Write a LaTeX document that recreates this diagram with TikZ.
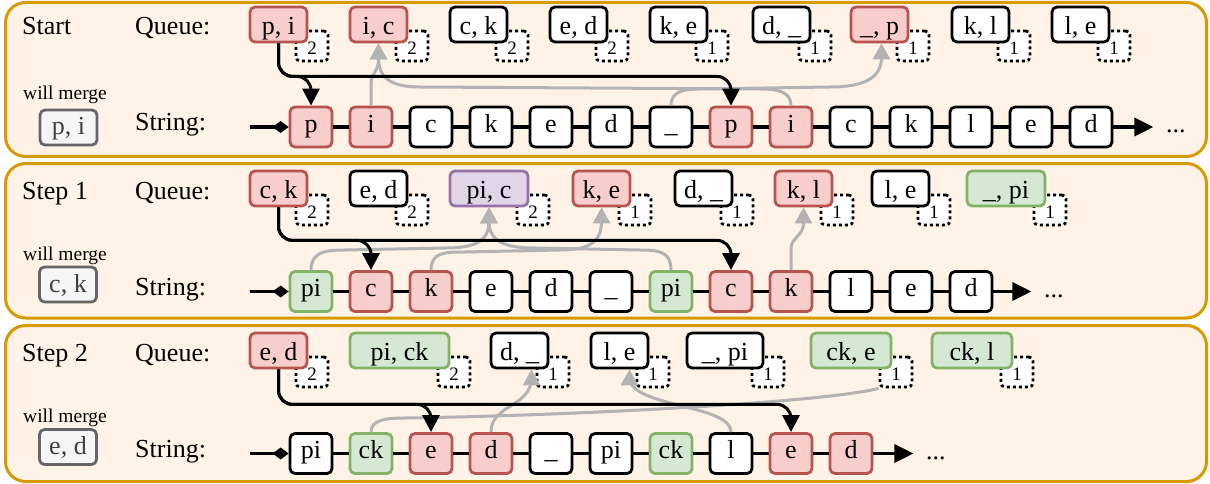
\documentclass[tikz,border=0pt]{standalone}
\usepackage{fontspec}
\setmainfont{Liberation Serif}
\usetikzlibrary{arrows.meta}
\definecolor{panelfill}{HTML}{FFF2E6}
\definecolor{paneldraw}{HTML}{D79B00}
\definecolor{redfill}{HTML}{F8CECC}
\definecolor{reddraw}{HTML}{B85450}
\definecolor{greenfill}{HTML}{D5E8D4}
\definecolor{greendraw}{HTML}{82B366}
\definecolor{purplefill}{HTML}{E1D5E7}
\definecolor{purpledraw}{HTML}{9673A6}
\definecolor{grayfill}{HTML}{F5F5F5}
\definecolor{graydraw}{HTML}{666666}
\definecolor{linkgray}{HTML}{B3B3B3}
\tikzset{
  panel/.style={draw=paneldraw,fill=panelfill,line width=3pt,rounded corners=20pt},
  lbl/.style={font=\fontsize{26}{30}\selectfont,inner sep=0pt},
  smalllbl/.style={font=\fontsize{19.5}{22}\selectfont,inner sep=0pt},
  box/.style={draw,line width=2.8pt,rounded corners=5pt,inner sep=0pt,font=\fontsize{26}{30}\selectfont},
  qbox/.style={box,minimum height=35pt,text height=26pt,text depth=6pt},
  sbox/.style={box,minimum width=42pt,minimum height=40pt,text height=17pt,text depth=7pt},
  countbox/.style={draw,fill=white,line width=2.8pt,dash pattern=on 3pt off 3pt,rounded corners=4pt,
    inner sep=0pt,minimum width=32pt,minimum height=30pt,font=\fontsize{19}{20}\selectfont,text height=20pt,text depth=3pt},
  mergebox/.style={box,draw=graydraw,fill=grayfill,text=black!75,minimum width=57pt,minimum height=35pt,text height=20pt,text depth=5pt},
  redtok/.style={fill=redfill,draw=reddraw},
  greentok/.style={fill=greenfill,draw=greendraw},
  purpletok/.style={fill=purplefill,draw=purpledraw},
  whitetok/.style={fill=white,draw=black},
  chain/.style={line width=3.5pt,black},
  push/.style={line width=3pt,black,rounded corners=14pt,-{Triangle[length=17pt,width=17pt]}},
  pull/.style={line width=3pt,linkgray,-{Triangle[length=16pt,width=17pt]}},
}
\begin{document}
\begin{tikzpicture}[x=1pt,y=-1pt,line join=round]
\useasboundingbox (0,0) rectangle (1210,484);
% panels
\draw[panel] (5.5,2.5) rectangle (1206.5,156.5);
\draw[panel] (5.5,163.5) rectangle (1206.5,318);
\draw[panel] (5.5,325.5) rectangle (1206.5,481.5);

% ---------- Start ----------
\node[lbl,anchor=base west] (ta) at (22,35) {Start};
\node[lbl,anchor=base west] (qla) at (135,35) {Queue:};
\node[lbl,anchor=base west] (sla) at (135,131) {String:};
\node[smalllbl,anchor=base] (wa) at (65,100) {will merge};
\node[mergebox] (ma) at (68.5,127.5) {p, i};
\foreach \x/\w/\t/\s/\n [count=\i] in {250/57/{p, i}/redtok/2, 350/57/{i, c}/redtok/2, 450/57/{c, k}/whitetok/2,
    550/57/{e, d}/whitetok/2, 650/57/{k, e}/whitetok/1, 753/57/{d, \_}/whitetok/1, 851/57/{\_, p}/redtok/1,
    952/57/{k, l}/whitetok/1, 1052/57/{l, e}/whitetok/1}{
  \pgfmathsetmacro\cx{\x+\w/2}
  \pgfmathsetmacro\nx{\x+\w+5}
  \node[countbox] (na\i) at (\nx,46) {\n};
  \node[qbox,\s,minimum width=\w pt] (qa\i) at (\cx,24.5) {\t};
}
\foreach \t/\s [count=\i] in {p/redtok, i/redtok, c/whitetok, k/whitetok, e/whitetok, d/whitetok, \_/whitetok,
    p/redtok, i/redtok, c/whitetok, k/whitetok, l/whitetok, e/whitetok, d/whitetok}{
  \pgfmathsetmacro\sx{311+60*(\i-1)}
  \node[sbox,\s] (sa\i) at (\sx,127) {\t};
}
\coordinate (ha) at (250,127);
\draw[chain,-{Diamond[length=16pt,width=12pt]}] (ha) -- (sa1);
\foreach \i [count=\j from 2] in {1,...,13}
  \draw[chain] (sa\i) -- (sa\j);
\draw[chain,-{Triangle[length=19pt,width=18pt]}] (sa14.east) -- ++(40,0)
  node[lbl,anchor=base west,xshift=11pt,yshift=-6pt] {...};
% links
\draw[pull] (sa2.north) -- ++(0,-22) .. controls +(0,-10) and +(0,12) .. ([yshift=-16pt]qa2.south) -- (qa2.south);
\draw[pull] (sa9.north) .. controls +(0,-15) and +(15,0) .. (760,89) -- (420,87)
  .. controls +(-30,0) and +(0,20) .. ([yshift=-14pt]qa2.south) -- (qa2.south);
\draw[pull] (sa7.north) .. controls +(0,-15) and +(-15,0) .. (700,89) -- (830,87)
  .. controls +(35,0) and +(0,20) .. ([xshift=2pt,yshift=-14pt]qa7.south) -- ([xshift=2pt]qa7.south);
\draw[push] (qa1.south) -- ++(0,33) -| (sa1.north);
\draw[push] (qa1.south) -- ++(0,33) -| (sa8.north);

% ---------- Step 1 ----------
\node[lbl,anchor=base west] (tb) at (22,199) {Step 1};
\node[lbl,anchor=base west] (qlb) at (135,199) {Queue:};
\node[lbl,anchor=base west] (slb) at (135,295) {String:};
\node[smalllbl,anchor=base] (wb) at (65,260) {will merge};
\node[mergebox] (mb) at (68,284.5) {c, k};
\foreach \x/\w/\t/\s/\n [count=\i] in {250/57/{c, k}/redtok/2, 350/57/{e, d}/whitetok/2, 450/78/{pi, c}/purpletok/2,
    573/57/{k, e}/redtok/1, 675/57/{d, \_}/whitetok/1, 775/57/{k, l}/redtok/1, 872/57/{l, e}/whitetok/1,
    967/78/{\_, pi}/greentok/1}{
  \pgfmathsetmacro\cx{\x+\w/2}
  \pgfmathsetmacro\nx{\x+\w+5}
  \node[countbox] (nb\i) at (\nx,210) {\n};
  \node[qbox,\s,minimum width=\w pt] (qb\i) at (\cx,188.5) {\t};
}
\foreach \t/\s [count=\i] in {pi/greentok, c/redtok, k/redtok, e/whitetok, d/whitetok, \_/whitetok,
    pi/greentok, c/redtok, k/redtok, l/whitetok, e/whitetok, d/whitetok}{
  \pgfmathsetmacro\sx{311+60*(\i-1)}
  \node[sbox,\s] (sb\i) at (\sx,291.5) {\t};
}
\coordinate (hb) at (250,291.5);
\draw[chain,-{Diamond[length=16pt,width=12pt]}] (hb) -- (sb1);
\foreach \i [count=\j from 2] in {1,...,11}
  \draw[chain] (sb\i) -- (sb\j);
\draw[chain,-{Triangle[length=19pt,width=18pt]}] (sb12.east) -- ++(38,0)
  node[lbl,anchor=base west,xshift=11pt,yshift=-6pt] {...};
% links
\draw[pull] (sb1.north) .. controls +(0,-18) and +(-20,0) .. (345,250) -- (445,248)
  .. controls +(30,0) and +(0,20) .. ([yshift=-14pt]qb3.south) -- (qb3.south);
\draw[pull] (sb7.north) .. controls +(0,-18) and +(20,0) .. (640,250) -- (535,248)
  .. controls +(-30,0) and +(0,20) .. ([yshift=-14pt]qb3.south) -- (qb3.south);
\draw[pull] (sb3.north) .. controls +(0,-18) and +(-20,0) .. (465,252) -- (560,250)
  .. controls +(30,0) and +(0,20) .. ([yshift=-14pt]qb4.south) -- (qb4.south);
\draw[pull] (sb9.north) -- ++(0,-22) .. controls +(0,-10) and +(0,12) .. ([yshift=-16pt]qb6.south) -- (qb6.south);
\draw[push] (qb1.south) -- ++(0,33) -| (sb2.north);
\draw[push] (qb1.south) -- ++(0,33) -| (sb8.north);

% ---------- Step 2 ----------
\node[lbl,anchor=base west] (tc) at (22,361) {Step 2};
\node[lbl,anchor=base west] (qlc) at (135,361) {Queue:};
\node[lbl,anchor=base west] (slc) at (135,457) {String:};
\node[smalllbl,anchor=base] (wc) at (65,422) {will merge};
\node[mergebox] (mc) at (68,447) {e, d};
\foreach \x/\w/\t/\s/\n [count=\i] in {250/57/{e, d}/redtok/2, 350/99/{pi, ck}/greentok/2, 491/57/{d, \_}/whitetok/1,
    591/57/{l, e}/whitetok/1, 687/76/{\_, pi}/whitetok/1, 811/80/{ck, e}/greentok/1, 932/80/{ck, l}/greentok/1}{
  \pgfmathsetmacro\cx{\x+\w/2}
  \pgfmathsetmacro\nx{\x+\w+5}
  \node[countbox] (nc\i) at (\nx,372) {\n};
  \node[qbox,\s,minimum width=\w pt] (qc\i) at (\cx,350.5) {\t};
}
\foreach \t/\s [count=\i] in {pi/whitetok, ck/greentok, e/redtok, d/redtok, \_/whitetok,
    pi/whitetok, ck/greentok, l/whitetok, e/redtok, d/redtok}{
  \pgfmathsetmacro\sx{311+60*(\i-1)}
  \node[sbox,\s] (sc\i) at (\sx,453.5) {\t};
}
\coordinate (hc) at (250,453.5);
\draw[chain,-{Diamond[length=16pt,width=12pt]}] (hc) -- (sc1);
\foreach \i [count=\j from 2] in {1,...,9}
  \draw[chain] (sc\i) -- (sc\j);
\draw[chain,-{Triangle[length=19pt,width=18pt]}] (sc10.east) -- ++(40,0)
  node[lbl,anchor=base west,xshift=11pt,yshift=-6pt] {...};
% links
\draw[pull,-] (sc2.north) .. controls +(0,-12) and +(-20,0) .. (405,418)
  .. controls +(150,-2) and +(-60,15) .. (nc6.south west);
\draw[pull] (sc4.north) .. controls +(0,-28) and +(0,30) .. ([xshift=12pt,yshift=-8pt]qc3.south) -- ([xshift=12pt]qc3.south);
\draw[pull] (sc8.north) .. controls +(0,-28) and +(0,30) .. ([xshift=10pt,yshift=-8pt]qc4.south) -- ([xshift=10pt]qc4.south);
\draw[push] (qc1.south) -- ++(0,35) -| (sc3.north);
\draw[push] (qc1.south) -- ++(0,35) -| (sc9.north);
\end{tikzpicture}
\end{document}
